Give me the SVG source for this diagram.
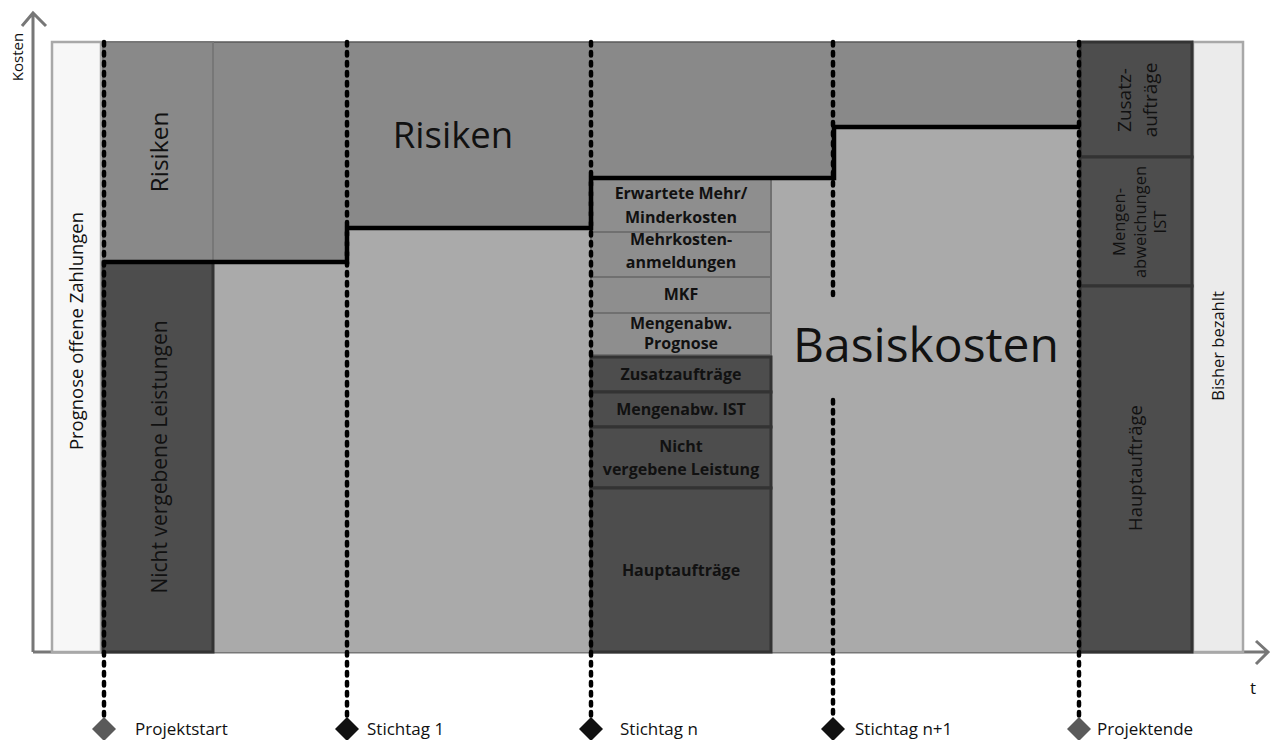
<svg xmlns="http://www.w3.org/2000/svg" width="1272" height="740" viewBox="0 0 1272 740">
  <style>
    text { font-family: "Open Sans", "Liberation Sans", sans-serif; fill: #111; }
    .b { font-weight: bold; font-size: 16px; text-anchor: middle; }
    .mid { text-anchor: middle; }
    .risk { fill: #898989; stroke: #777; stroke-width: 2; }
    .soft { fill: #8e8e8e; stroke: #707070; stroke-width: 2; }
    .dark { fill: #4d4d4d; stroke: #333; stroke-width: 3; }
    .axis { stroke: #777; stroke-width: 3; fill: none; }
    .dots { stroke: #000; stroke-width: 4.5; stroke-dasharray: 3.5 6.5; stroke-linecap: round; fill: none; }
    .lbl { font-size: 17px; }
  </style>

  <!-- axes -->
  <g id="axes">
    <path class="axis" d="M33 652 V14 M22 26 L33 13 L46 26"/>
    <path class="axis" d="M33 652 H1267 M1256 641 L1268 652 L1256 664"/>
    <text transform="translate(23,57) rotate(-90)" class="mid" font-size="15">Kosten</text>
    <text x="1250" y="694" font-size="17">t</text>
  </g>

  <!-- side strips -->
  <g id="prognose-offen">
    <rect x="52" y="42" width="49" height="610" fill="#f7f7f7" stroke="#a8a8a8" stroke-width="2.5"/>
    <text transform="translate(83,331) rotate(-90)" class="mid" font-size="18.5">Prognose offene Zahlungen</text>
  </g>
  <g id="bisher-bezahlt">
    <rect x="1193" y="42" width="50" height="610" fill="#ebebeb" stroke="#a8a8a8" stroke-width="2.5"/>
    <text transform="translate(1224,346) rotate(-90)" class="mid" font-size="16.5">Bisher bezahlt</text>
  </g>

  <!-- cost areas -->
  <g id="risiken">
    <rect x="103" y="42" width="977" height="610" fill="#898989"/>
    <line x1="103" y1="42" x2="1080" y2="42" stroke="#5a5a5a" stroke-width="1.5"/>
    <text x="453" y="148" class="mid" font-size="36.5">Risiken</text>
  </g>
  <g id="basiskosten">
    <polygon points="213,262 347,262 347,228 590,228 590,178 834,178 834,127 1080,127 1080,652 213,652" fill="#aaaaaa"/>
    <text x="926" y="362" class="mid" font-size="48">Basiskosten</text>
  </g>

  <!-- column at project start -->
  <g id="start-risiken">
    <rect class="risk" x="103" y="42" width="110" height="220"/>
    <text transform="translate(168,152) rotate(-90)" class="mid" font-size="24.5">Risiken</text>
  </g>
  <g id="start-nicht-vergeben">
    <rect class="dark" x="103" y="262" width="110" height="390"/>
    <text transform="translate(167,457) rotate(-90)" class="mid" font-size="21">Nicht vergebene Leistungen</text>
  </g>

  <!-- column at Stichtag n -->
  <g id="n-erwartete">
    <rect class="soft" x="591" y="178" width="180" height="54"/>
    <text x="681" y="199" class="b">Erwartete Mehr/</text>
    <text x="681" y="223" class="b">Minderkosten</text>
  </g>
  <g id="n-mehrkosten">
    <rect class="soft" x="591" y="232" width="180" height="45"/>
    <text x="681" y="245" class="b">Mehrkosten-</text>
    <text x="681" y="268" class="b">anmeldungen</text>
  </g>
  <g id="n-mkf">
    <rect class="soft" x="591" y="277" width="180" height="36"/>
    <text x="681" y="300" class="b">MKF</text>
  </g>
  <g id="n-mengen-prognose">
    <rect class="soft" x="591" y="313" width="180" height="42"/>
    <text x="681" y="329" class="b">Mengenabw.</text>
    <text x="681" y="349" class="b">Prognose</text>
  </g>
  <g id="n-zusatz">
    <rect class="dark" x="591" y="357" width="180" height="35"/>
    <text x="681" y="380" class="b">Zusatzaufträge</text>
  </g>
  <g id="n-mengen-ist">
    <rect class="dark" x="591" y="392" width="180" height="35"/>
    <text x="681" y="415" class="b">Mengenabw. IST</text>
  </g>
  <g id="n-nicht-vergeben">
    <rect class="dark" x="591" y="427" width="180" height="61"/>
    <text x="681" y="452" class="b">Nicht</text>
    <text x="681" y="475" class="b">vergebene Leistung</text>
  </g>
  <g id="n-haupt">
    <rect class="dark" x="591" y="488" width="180" height="164"/>
    <text x="681" y="576" class="b">Hauptaufträge</text>
  </g>

  <!-- column at project end -->
  <g id="ende-zusatz">
    <rect class="dark" x="1080" y="42" width="112" height="115"/>
    <text transform="translate(1131,100) rotate(-90)" class="mid" font-size="19">Zusatz-</text>
    <text transform="translate(1157,100) rotate(-90)" class="mid" font-size="19">aufträge</text>
  </g>
  <g id="ende-mengen">
    <rect class="dark" x="1080" y="157" width="112" height="129"/>
    <text transform="translate(1125,222) rotate(-90)" class="mid" font-size="16.5">Mengen-</text>
    <text transform="translate(1146,222) rotate(-90)" class="mid" font-size="16.5">abweichungen</text>
    <text transform="translate(1166,222) rotate(-90)" class="mid" font-size="16.5">IST</text>
  </g>
  <g id="ende-haupt">
    <rect class="dark" x="1080" y="286" width="112" height="366"/>
    <text transform="translate(1142,468) rotate(-90)" class="mid" font-size="18.5">Hauptaufträge</text>
  </g>

  <!-- cost line and milestones -->
  <g id="connectors">
    <polyline points="104,262 347,262 347,228 591,228 591,178 834,178 834,127 1080,127" fill="none" stroke="#000" stroke-width="4.5"/>
    <path class="dots" d="M104 42 V716 M347 42 V716 M591 42 V716 M833 42 V295 M833 400 V716 M1079 42 V716"/>
  </g>

  <g id="projektstart">
    <polygon points="104,717 116,729 104,741 92,729" fill="#5a5a5a"/>
    <text x="135" y="735" class="lbl">Projektstart</text>
  </g>
  <g id="stichtag-1">
    <polygon points="347,717 359,729 347,741 335,729" fill="#111"/>
    <text x="367" y="735" class="lbl">Stichtag 1</text>
  </g>
  <g id="stichtag-n">
    <polygon points="591,717 603,729 591,741 579,729" fill="#111"/>
    <text x="620" y="735" class="lbl">Stichtag n</text>
  </g>
  <g id="stichtag-n1">
    <polygon points="833,717 845,729 833,741 821,729" fill="#111"/>
    <text x="855" y="735" class="lbl">Stichtag n+1</text>
  </g>
  <g id="projektende">
    <polygon points="1079,717 1091,729 1079,741 1067,729" fill="#5a5a5a"/>
    <text x="1097" y="735" class="lbl">Projektende</text>
  </g>
</svg>
